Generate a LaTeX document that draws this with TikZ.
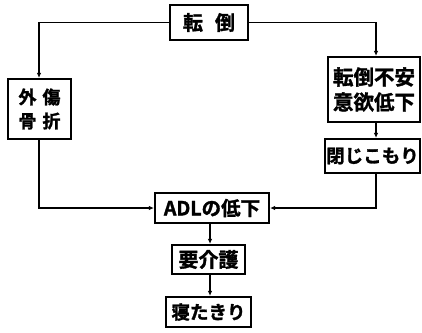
\documentclass[tikz,border=0pt]{standalone}
\usepackage{fontspec}
\newfontfamily\cjk[BoldFont={Noto Sans CJK JP Bold},BoldFeatures={FakeBold=1.5}]{Noto Sans CJK JP}
\usetikzlibrary{arrows.meta,calc}
\begin{document}
\begin{tikzpicture}[x=1pt,y=-1pt,
  box/.style={draw,line width=2.2pt,inner sep=0pt,align=center,font=\cjk\bfseries\fontsize{18.5}{22}\selectfont},
  conn/.style={line width=1.7pt,-{Latex[length=5pt,width=4.5pt]}}]
\useasboundingbox (0,0) rectangle (422,332);
\node[box,minimum width=78pt,minimum height=35pt,font=\cjk\bfseries\fontsize{20}{22}\selectfont] (tento) at (209,22.5) {転\hspace{12pt}倒};
\node[box,minimum width=63pt,minimum height=60pt,font=\cjk\bfseries\fontsize{18}{24}\selectfont] (gaisho) at (39.5,109) {外\hspace{6pt}傷\\骨\hspace{6pt}折};
\node[box,minimum width=92pt,minimum height=65pt,font=\cjk\bfseries\fontsize{20.5}{25}\selectfont] (fuan) at (374,89.5) {転倒不安\\意欲低下};
\node[box,minimum width=95pt,minimum height=34pt] (toji) at (372.5,156) {閉じこもり};
\node[box,minimum width=114pt,minimum height=30pt,font=\cjk\bfseries\fontsize{19.5}{22}\selectfont] (adl) at (212,208) {ADLの低下};
\node[box,minimum width=73pt,minimum height=29pt,font=\cjk\bfseries\fontsize{20}{22}\selectfont] (kaigo) at (208.5,259.5) {要介護};
\node[box,minimum width=85pt,minimum height=30pt] (neta) at (208.5,312) {寝たきり};
\coordinate (lx) at (39,0);
\coordinate (rx) at (376,0);
\coordinate (cx) at (210,0);
\draw[conn] (tento.west) -| (lx |- gaisho.north);
\draw[conn] (tento.east) -| (rx |- fuan.north);
\draw[conn] (rx |- fuan.south) -- (rx |- toji.north);
\draw[conn] (lx |- gaisho.south) |- (adl.west);
\draw[conn] (rx |- toji.south) |- (adl.east);
\draw[conn] (cx |- adl.south) -- (cx |- kaigo.north);
\draw[conn] (cx |- kaigo.south) -- (cx |- neta.north);
\end{tikzpicture}
\end{document}
